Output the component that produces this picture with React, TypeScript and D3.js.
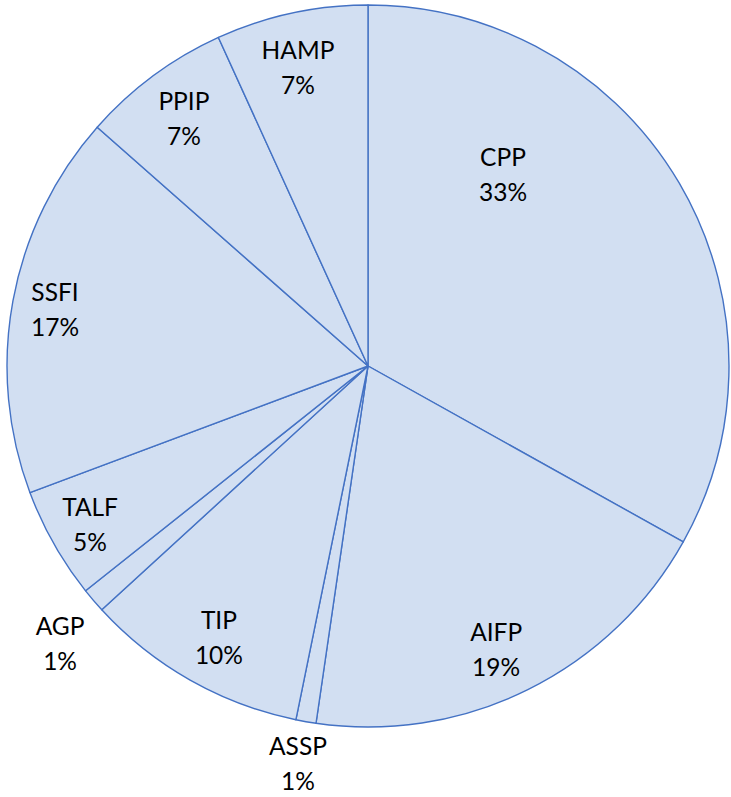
import React from "react";
import * as d3 from "d3";

const categories = ["CPP", "AIFP", "ASSP", "TIP", "AGP", "TALF", "SSFI", "PPIP", "HAMP"];
const values = [33.1, 19.2, 0.9, 10.0, 1.1, 5.0, 17.2, 6.7, 6.8];

// label anchor offsets from the pie centre, in units of the radius
const labelOffsets: [number, number][] = [
  [0.374, -0.554],
  [0.355, 0.762],
  [-0.194, 1.078],
  [-0.413, 0.729],
  [-0.853, 0.745],
  [-0.77, 0.416],
  [-0.867, -0.18],
  [-0.51, -0.709],
  [-0.194, -0.85],
];

const W = 731;
const H = 797;
const CX = 368;
const CY = 366;
const R = 361;
const FILL = "#D2DFF2";
const STROKE = "#4472C4";
const FONT = "Lato, 'Open Sans', sans-serif";
const FONT_SIZE = 24.5;
const LINE_GAP = 35;

export default function App() {
  const data = categories.map((c, i) => ({ name: c, value: values[i] }));
  const total = d3.sum(values);
  const pie = d3
    .pie<{ name: string; value: number }>()
    .sort(null)
    .value((d) => d.value)
    .startAngle(0)
    .endAngle(2 * Math.PI);
  const arcs = pie(data);
  const arcGen = d3
    .arc<d3.PieArcDatum<{ name: string; value: number }>>()
    .innerRadius(0)
    .outerRadius(R);
  const fmt = d3.format(".0%");

  return (
    <svg
      width={W}
      height={H}
      style={{ position: "absolute", left: 0, top: 0, background: "#fff" }}
    >
      <g transform={`translate(${CX},${CY})`}>
        {arcs.map((a, i) => (
          <path
            key={i}
            d={arcGen(a) || ""}
            fill={FILL}
            stroke={STROKE}
            strokeWidth={1.4}
            strokeLinejoin="round"
          />
        ))}
        {arcs.map((a, i) => {
          const [ox, oy] = labelOffsets[i];
          const x = ox * R;
          const y = oy * R;
          return (
            <text
              key={"t" + i}
              x={x}
              y={y}
              textAnchor="middle"
              fontFamily={FONT}
              fontSize={FONT_SIZE}
              fill="#000"
            >
              <tspan x={x} y={y}>
                {a.data.name}
              </tspan>
              <tspan x={x} y={y + LINE_GAP}>
                {fmt(a.data.value / total)}
              </tspan>
            </text>
          );
        })}
      </g>
    </svg>
  );
}
